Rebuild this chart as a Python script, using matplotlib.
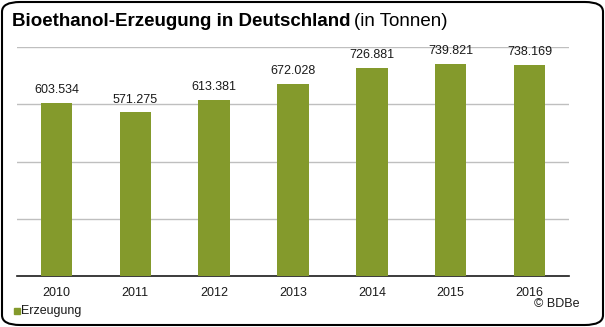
import matplotlib.pyplot as plt
from matplotlib.patches import FancyBboxPatch, Rectangle

years = ['2010', '2011', '2012', '2013', '2014', '2015', '2016']
production = [603534, 571275, 613381, 672028, 726881, 739821, 738169]
value_labels = ['603.534', '571.275', '613.381', '672.028', '726.881', '739.821', '738.169']

bar_color = '#849A2C'
plt.rcParams['font.family'] = ['Liberation Sans', 'DejaVu Sans']

fig = plt.figure(figsize=(6.05, 3.27), dpi=100)
ax = fig.add_axes([17 / 605, 1 - 276 / 327, 552 / 605, 229 / 327])

x = range(len(years))
bars = ax.bar(x, production, width=0.4, color=bar_color, zorder=3)
for xi, val, lab in zip(x, production, value_labels):
    ax.annotate(lab, (xi, val), xytext=(0, 5), textcoords='offset points',
                ha='center', va='bottom', fontsize=9, color='#1a1a1a',
                annotation_clip=False)

ax.set_xlim(-0.5, len(years) - 0.5)
ax.set_ylim(0, 800000)
ax.set_yticks([200000, 400000, 600000, 800000])
ax.set_yticklabels([])
ax.grid(axis='y', color='#BFBFBF', linewidth=1, zorder=0)
ax.set_xticks(list(x))
ax.set_xticklabels(years, fontsize=9, color='#1a1a1a')
ax.tick_params(length=0, pad=8)
for side in ['top', 'right', 'left']:
    ax.spines[side].set_visible(False)
ax.spines['bottom'].set_color('#1a1a1a')
ax.spines['bottom'].set_linewidth(1.2)

# Titel: fetter Teil plus Einheit in normaler Schrift
t1 = fig.text(12 / 605, 1 - 22 / 327, 'Bioethanol-Erzeugung in Deutschland',
              fontsize=13.5, fontweight='bold', va='center', ha='left')
fig.canvas.draw()
bb = t1.get_window_extent()
fig.text((bb.x1 + 3) / 605, 1 - 22 / 327, '(in Tonnen)', fontsize=13.5,
         va='center', ha='left')

# Legende unten links
fig.patches.append(Rectangle((14 / 605, 1 - 314 / 327), 6 / 605, 6 / 327,
                             transform=fig.transFigure, color=bar_color))
fig.text(21 / 605, 1 - 311 / 327, 'Erzeugung', fontsize=9, va='center', ha='left',
         color='#1a1a1a')
fig.text(580 / 605, 1 - 304 / 327, '© BDBe', fontsize=9, va='center', ha='right',
         color='#1a1a1a')

# abgerundeter Rahmen
frame = FancyBboxPatch((2 / 605, 2 / 327), 601 / 605, 323 / 327,
                       boxstyle='round,pad=0,rounding_size=0.03',
                       transform=fig.transFigure, fill=False,
                       edgecolor='black', linewidth=1.5)
fig.patches.append(frame)

fig.savefig('out.png', dpi=100)
